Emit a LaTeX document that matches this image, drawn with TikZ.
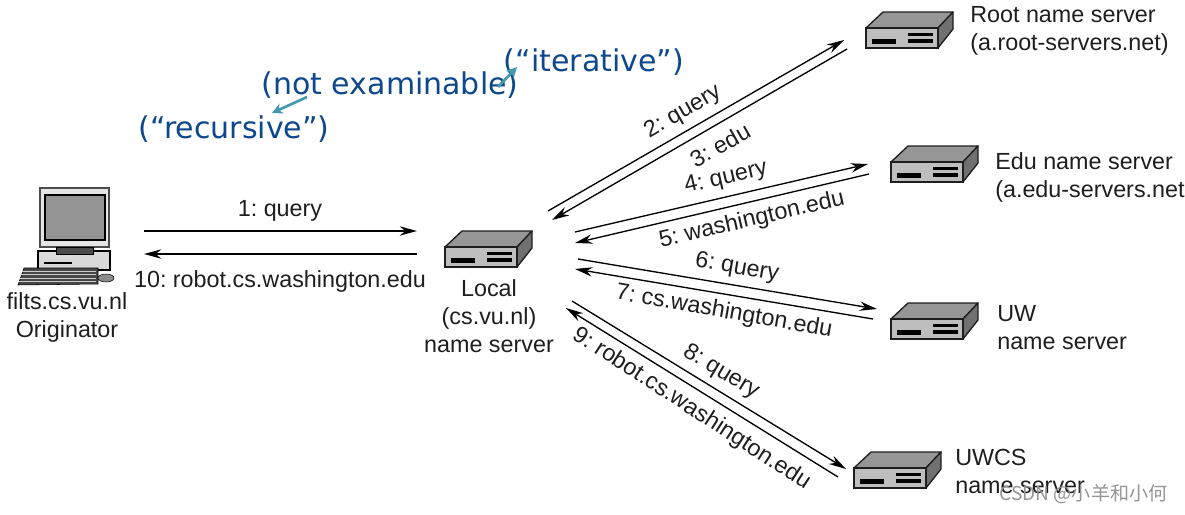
\documentclass[tikz,border=0pt]{standalone}
\usepackage{fontspec}
\setmainfont{Liberation Sans}
\newfontfamily\bluefont{DejaVu Sans}
\newfontfamily\cjkfont{Noto Sans CJK SC}
\usetikzlibrary{arrows.meta}
\definecolor{notecol}{RGB}{14,72,140}
\definecolor{tealcol}{RGB}{66,152,176}
\definecolor{bodycol}{RGB}{190,190,190}
\definecolor{lidcol}{RGB}{150,150,150}
\definecolor{sidecol}{RGB}{112,112,112}
\definecolor{inkcol}{RGB}{30,30,30}
\tikzset{
  msgarrow/.style={draw=black,line width=1pt,-{Stealth[length=13pt,width=7pt]}},
  notearrow/.style={draw=tealcol,line width=2pt,-{Stealth[length=8pt,width=8pt]}},
  msglabel/.style={font=\fontsize{17.5}{21}\selectfont\frenchspacing,text=inkcol,inner sep=0pt},
  namelabel/.style={font=\fontsize{17.5}{21}\selectfont,text=inkcol,inner sep=0pt,align=left,anchor=west},
  notelabel/.style={font=\fontsize{22.5}{26}\bluefont,text=notecol,inner sep=0pt},
  serverbox/.pic={
    \draw[inkcol,line width=1pt,line join=round,fill=lidcol](0,0)--(17,-16)--(87,-16)--(72,0)--cycle;
    \draw[inkcol,line width=1pt,line join=round,fill=sidecol](72,0)--(87,-16)--(87,1)--(72,20)--cycle;
    \draw[inkcol,line width=1.6pt,fill=bodycol](0,0)rectangle(72,20);
    \fill[black](6,11)rectangle(30,16);
    \fill[black](42,5)rectangle(67,8);
    \fill[black](42,11)rectangle(67,15);
  }
}
\begin{document}
\begin{tikzpicture}[x=0.75pt,y=-0.75pt]
\useasboundingbox(0,0)rectangle(1185,514);
% monitor and keyboard
\draw[black!70,line width=1.2pt,fill=black!10](40,188)rectangle(109,247);
\draw[black,line width=1pt,fill=black!42](45,195)rectangle(105,240);
\draw[black,line width=0.8pt,fill=black!15](38,251)rectangle(110,270);
\draw[black,fill=black!70](56,247)rectangle(93,254);
\fill[black](44,262)rectangle(72,264);
\draw[black,fill=black!72](24,268)--(98,268)--(98,284)--(18,285)--cycle;
\foreach\i in{0,1,2,3}{\draw[black!20,line width=0.4pt](22-\i,271+3.5*\i)--(96,271+3.5*\i);}
\draw[black,fill=black!45](106,278)ellipse(8 and 4);
% servers
\pic at(445,247){serverbox};
\pic at(866,28){serverbox};
\pic at(891,162){serverbox};
\pic at(891,319){serverbox};
\pic at(854,468){serverbox};
% arrow ends
\foreach\nm/\x/\y in{a/144/231,b/417/231,c/417/254,d/144/254,
  e/548/211,f/844/40,g/847/49,h/552/220,
  i/575/232,j/868/164,k/869/174,l/575/243,
  m/578/259,n/877/309,o/873/319,p/575/269,
  q/572/301,r/846/469,s/838/477,t/566/308}{\coordinate(\nm)at(\x,\y);}
\draw[msgarrow](a)--(b);\draw[msgarrow](c)--(d);
\draw[msgarrow](e)--(f);\draw[msgarrow](g)--(h);
\draw[msgarrow](i)--(j);\draw[msgarrow](k)--(l);
\draw[msgarrow](m)--(n);\draw[msgarrow](o)--(p);
\draw[msgarrow](q)--(r);\draw[msgarrow](s)--(t);
% message labels
\node[msglabel](q1)at(280,211){1: query};
\node[msglabel](q10)at(280,281){10: robot.cs.washington.edu};
\node[msglabel,rotate=30](q2)at(683,112){2: query};
\node[msglabel,rotate=29.5](q3)at(720,145){3: edu};
\node[msglabel,rotate=13](q4)at(726,178){4: query};
\node[msglabel,rotate=13](q5)at(752,220){5: washington.edu};
\node[msglabel,rotate=-10](q6)at(737,268){6: query};
\node[msglabel,rotate=-10](q7)at(724,312){7: cs.washington.edu};
\node[msglabel,rotate=-31](q8)at(721,372){8: query};
\node[msglabel,rotate=-33](q9)at(692,409){9: robot.cs.washington.edu};
% names
\node[msglabel,align=center](originator)at(67,317){filts.cs.vu.nl\\Originator};
\node[msglabel,align=center](local)at(489,316){Local\\(cs.vu.nl)\\name server};
\node[namelabel](root)at(970,31){Root name server\\(a.root-servers.net)};
\node[namelabel](edu)at(995,177){Edu name server\\(a.edu-servers.net};
\node[namelabel](uw)at(997,328){UW\\name server};
\node[namelabel](uwcs)at(955,471){UWCS\\name server};
% notes
\node[notelabel](iter)at(594,62){(“iterative”)};
\node[notelabel](exam)at(390,85){(not examinable)};
\node[notelabel](rec)at(234,129){(“recursive”)};
\draw[notearrow](307,97)--(272,113);
\draw[notearrow](498,87)--(517,67);
\node[font=\fontsize{14.3}{16}\cjkfont,text=black!42,inner sep=0pt](mark)at(1083.5,494){CSDN @小羊和小何};
\end{tikzpicture}
\end{document}
